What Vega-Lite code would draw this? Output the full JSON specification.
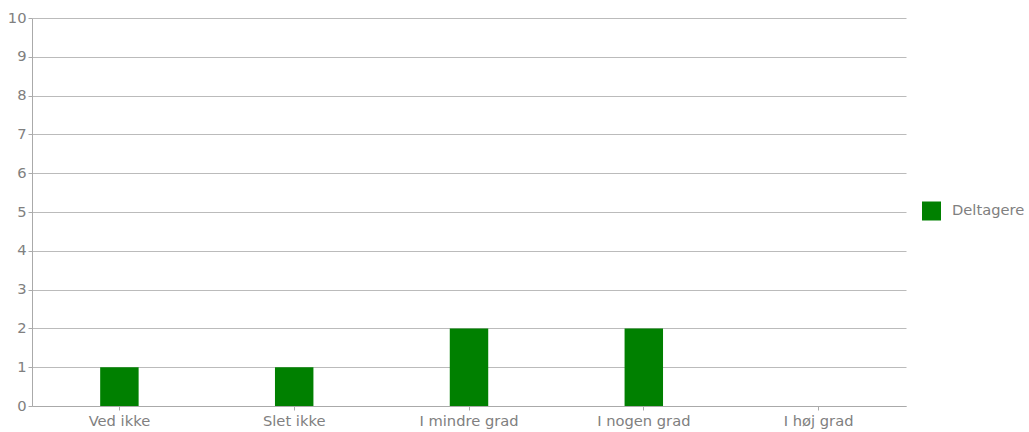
{
  "$schema": "https://vega.github.io/schema/vega-lite/v6.json",
  "width": 874,
  "height": 388,
  "autosize": {"type": "none"},
  "padding": {"left": 32, "top": 18, "right": 123, "bottom": 26},
  "background": "white",
  "config": {
    "view": {"stroke": null},
    "font": "DejaVu Sans"
  },
  "data": {
    "values": [
      {"svar": "Ved ikke", "antal": 1, "serie": "Deltagere"},
      {"svar": "Slet ikke", "antal": 1, "serie": "Deltagere"},
      {"svar": "I mindre grad", "antal": 2, "serie": "Deltagere"},
      {"svar": "I nogen grad", "antal": 2, "serie": "Deltagere"},
      {"svar": "I høj grad", "antal": 0, "serie": "Deltagere"}
    ]
  },
  "mark": {"type": "bar", "width": {"band": 0.22}},
  "encoding": {
    "x": {
      "field": "svar",
      "type": "nominal",
      "sort": null,
      "title": null,
      "scale": {"paddingInner": 0, "paddingOuter": 0},
      "axis": {
        "labelAngle": 0,
        "labelColor": "#808080",
        "labelFontSize": 14.7,
        "labelPadding": 3,
        "domainColor": "#aaaaaa",
        "tickColor": "#aaaaaa",
        "tickSize": 4,
        "grid": false
      }
    },
    "y": {
      "field": "antal",
      "type": "quantitative",
      "title": null,
      "scale": {"domain": [0, 10]},
      "axis": {
        "values": [0, 1, 2, 3, 4, 5, 6, 7, 8, 9, 10],
        "labelColor": "#808080",
        "labelFontSize": 14.7,
        "labelPadding": 2,
        "domainColor": "#aaaaaa",
        "tickColor": "#aaaaaa",
        "tickSize": 4,
        "gridColor": "#bbbbbb",
        "gridWidth": 1
      }
    },
    "color": {
      "field": "serie",
      "type": "nominal",
      "title": null,
      "scale": {"range": ["#008000"]},
      "legend": {
        "orient": "none",
        "legendX": 890,
        "legendY": 183.5,
        "padding": 0,
        "symbolType": "square",
        "symbolSize": 361,
        "symbolStrokeWidth": 0,
        "labelColor": "#808080",
        "labelFontSize": 14.7,
        "labelOffset": 11
      }
    }
  }
}
